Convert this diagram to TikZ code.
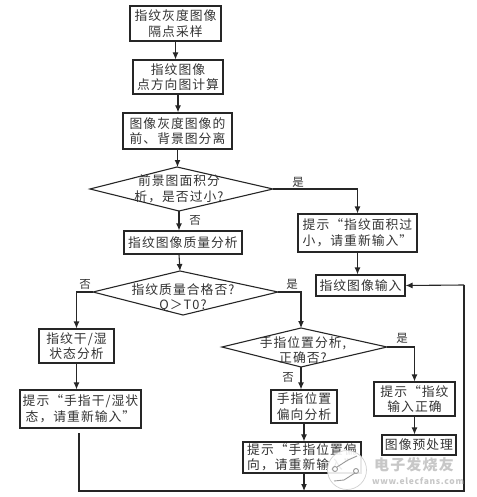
\documentclass[tikz,border=0pt]{standalone}
\usepackage{fontspec}
\setmainfont{Noto Sans CJK SC}[LetterSpace=8]
\usetikzlibrary{arrows.meta}
\tikzset{
 x=1pt,y=-1pt,
 every node/.style={font=\fontsize{12.8}{15.5}\selectfont,text=black!80,inner sep=0pt,align=center},
 flow/.style={draw=black!85,line width=1.1pt},
 arr/.style={flow,-{Latex[length=7pt,width=6pt]}},
 lbl/.style={font=\fontsize{11.5}{13}\selectfont},
 wm/.style={text=black!22,font=\bfseries\fontsize{15}{15}\selectfont}
}
\newcommand{\boxnode}[7]{% name,x1,y1,x2,y2,linewidth,text
 \node[draw=black!85,line width=#6,minimum width=#4pt-#2pt,minimum height=#5pt-#3pt] (#1) at ({(#2+#4)/2},{(#3+#5)/2}) {#7};}
\begin{document}
\begin{tikzpicture}
\useasboundingbox (0,0) rectangle (476,497);
% boxes
\boxnode{b1}{130}{6}{221}{41}{1.1pt}{指纹灰度图像\\隔点采样}
\boxnode{b2}{133}{60}{223}{94}{1.1pt}{指纹图像\\点方向图计算}
\boxnode{b3}{123}{113}{232}{149}{1.3pt}{图像灰度图像的\\前、背景图分离}
\boxnode{b4}{124}{231}{242}{254}{1.1pt}{指纹图像质量分析}
\boxnode{b5}{298}{214}{417}{252}{1.1pt}{提示“指纹面积过\\小，请重新输入”}
\boxnode{b6}{316}{275}{405}{296}{1.1pt}{指纹图像输入}
\boxnode{b7}{39}{329}{114}{363}{1.1pt}{指纹干/湿\\状态分析}
\boxnode{b8}{20}{390}{141}{428}{1.2pt}{提示“手指干/湿状\\态，请重新输入”}
\boxnode{b9}{271}{390}{337}{423}{1.1pt}{手指位置\\偏向分析}
\boxnode{b10}{243}{442}{361}{473}{1.2pt}{提示“手指位置偏\\向，请重新输入”}
\boxnode{b11}{374}{382}{455}{416}{1.1pt}{提示“指纹\\输入正确}
\boxnode{b12}{382}{435}{456}{455}{1.1pt}{图像预处理}
% diamonds
\coordinate (dw) at (90,189); \coordinate (dn) at (177,167); \coordinate (de) at (273,189); \coordinate (ds) at (179,211);
\draw[flow] (dw) -- (dn) -- (de) -- (ds) -- cycle;
\node (t13) at (179,189) {前景图面积分\\析，是否过小?};
\coordinate (fw) at (93,292); \coordinate (fn) at (180,271); \coordinate (fe) at (278,292); \coordinate (fs) at (183,315);
\draw[flow] (fw) -- (fn) -- (fe) -- (fs) -- cycle;
\node (t14) at (183,298) {指纹质量合格否?\\Q＞T0?};
\coordinate (gw) at (222,347); \coordinate (gn) at (301,328); \coordinate (ge) at (387,347); \coordinate (gs) at (301,367);
\draw[flow] (gw) -- (gn) -- (ge) -- (gs) -- cycle;
\node (t15) at (303,350) {手指位置分析,\\正确否?};
% free ends and bends
\coordinate (start) at (79,433);
\coordinate (c1) at (79,491);
\coordinate (c3) at (464,491);
\coordinate (c4) at (464,285);
% connectors
\draw[arr] (b1.south) -- (b1.south |- b2.north);
\draw[arr] (b2.south) -- (b2.south |- b3.north);
\draw[arr] (b3.south) -- (dn -| b3.south);
\draw[arr] (ds) -- (ds |- b4.north);
\draw[arr] (ds |- b4.south) -- (fn);
\draw[arr] (de) -| (b5.north);
\draw[arr] (b5.south) -- (b5.south |- b6.north);
\draw[arr] (fw) -| (b7.north);
\draw[arr] (fe) -| (gn);
\draw[arr] (b7.south) -- (b7.south |- b8.north);
\draw[arr] (gs) -- (gs |- b9.north);
\draw[arr] (ge) -| (b11.north);
\draw[arr] (b9.south) -- (b9.south |- b10.north);
\draw[arr] (b11.south) -- (b11.south |- b12.north);
\draw[flow] (start) -- (c1) -- (c3) -- (c4);
\draw[arr] (c4) -- (b6.east);
\draw[arr] (b9.south |- b10.south) -- (b9.south |- c1);
% labels
\node[lbl] at (298,182) {是};
\node[lbl] at (195,220) {否};
\node[lbl] at (85,284) {否};
\node[lbl] at (292,284) {是};
\node[lbl] at (402,338) {是};
\node[lbl] at (288,377) {否};
% watermark
\fill[white,opacity=.9] (347,470) circle (19.5);
\draw[black!18,line width=.7pt] (347,470) circle (19.5);
\draw[black!40,line width=.9pt] (337,467) -- (348,460) -- (357,456);
\draw[black!40,line width=.9pt] (355,473) -- (344,480) -- (334,481);
\draw[black!40,line width=.9pt] (335,469) circle (2.5) (356,471) circle (2.5);
\node[wm] at (414,465) {电子发烧友};
\node[wm,font=\bfseries\fontsize{8.5}{9}\selectfont] at (418,481) {www.elecfans.com};
\end{tikzpicture}
\end{document}
